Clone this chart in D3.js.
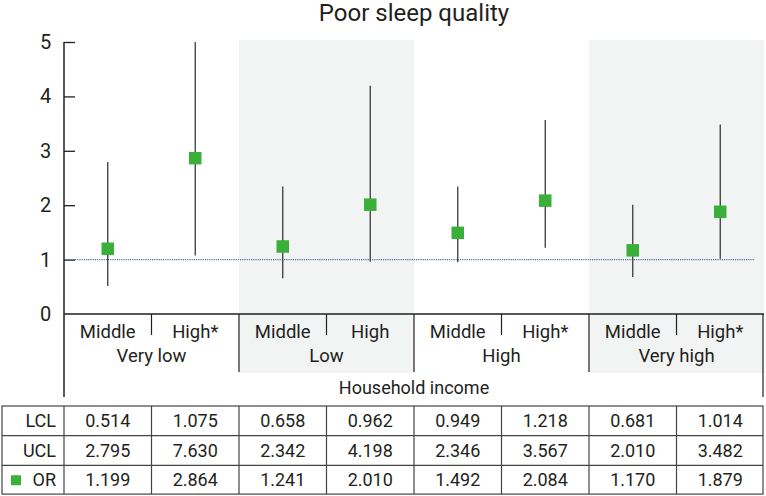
<!DOCTYPE html>
<html>
	<head>
		<meta charset="utf-8" />
		<title>Poor sleep quality</title>
		<style>
			body { margin: 0; background: #fff; }
			#chart svg { display: block; }
			#chart text { font-family: "Roboto", "Liberation Sans", sans-serif; fill: #231f20; }
		</style>
	</head>
	<body>
		<div id="chart"></div>
		<script src="https://cdnjs.cloudflare.com/ajax/libs/d3/7.8.5/d3.min.js"></script>
		<script>
			var groups = ["Very low", "Low", "High", "Very high"];
			var subs = ["Middle", "High*", "Middle", "High", "Middle", "High*", "Middle", "High*"];
			var lcl = [0.514, 1.075, 0.658, 0.962, 0.949, 1.218, 0.681, 1.014];
			var ucl = [2.795, 7.630, 2.342, 4.198, 2.346, 3.567, 2.010, 3.482];
			var or = [1.199, 2.864, 1.241, 2.010, 1.492, 2.084, 1.170, 1.879];
			var yTicks = [0, 1, 2, 3, 4, 5];

			!(function(){
				var width = 766, height = 496;
				var left = 64, right = 764, top = 42, base = 314;
				var ink = "#231f20";

				var svg = d3.select("#chart").append("svg")
					.attr("width", width)
					.attr("height", height);

				var x = d3.scaleBand().domain(d3.range(subs.length)).range([left, right]);
				var xg = d3.scaleBand().domain(groups).range([left, right]);
				var y = d3.scaleLinear().domain([0, 5]).range([base, top]);

				// shaded bands for Low and Very high
				svg.selectAll("rect.band")
					.data(groups.filter(function(d, i){ return i % 2 == 1; }))
					.enter().append("rect")
					.attr("x", function(d){ return xg(d); })
					.attr("y", 40)
					.attr("width", xg.bandwidth())
					.attr("height", 373 - 40)
					.attr("fill", "#f2f3f3");

				// title
				svg.append("text")
					.attr("x", (left + right) / 2)
					.attr("y", 21)
					.attr("text-anchor", "middle")
					.style("font-size", "24px")
					.text("Poor sleep quality");

				// y axis, ticks pointing inward
				var yAxis = svg.append("g")
					.attr("transform", "translate(" + left + ",0)")
					.call(d3.axisRight(y).tickValues(yTicks).tickSize(11).tickFormat(""));
				yAxis.select(".domain").remove();
				yAxis.selectAll("line").attr("stroke", ink).attr("stroke-width", 1.3);
				yAxis.selectAll(".tick").filter(function(d){ return d == 0; }).remove();

				svg.selectAll("text.ytick")
					.data(yTicks)
					.enter().append("text")
					.attr("class", "ytick")
					.attr("x", 45.5)
					.attr("y", function(d){ return y(d) + 7; })
					.attr("text-anchor", "middle")
					.style("font-size", "20px")
					.text(function(d){ return d; });

				// reference line OR = 1
				svg.append("line")
					.attr("x1", left).attr("x2", 754)
					.attr("y1", y(1)).attr("y2", y(1))
					.attr("stroke", "#4f6fa8")
					.attr("stroke-width", 1.2)
					.attr("stroke-dasharray", "1.2,1");

				// frame lines
				svg.append("line").attr("x1", left).attr("x2", left).attr("y1", top).attr("y2", 397)
					.attr("stroke", ink).attr("stroke-width", 1.5);
				svg.append("line").attr("x1", left).attr("x2", right).attr("y1", base).attr("y2", base)
					.attr("stroke", ink).attr("stroke-width", 1.5);
				svg.append("line").attr("x1", right - 1).attr("x2", right - 1).attr("y1", base).attr("y2", 397)
					.attr("stroke", ink).attr("stroke-width", 1.2);

				// group separators
				svg.selectAll("line.gsep")
					.data(groups.slice(1))
					.enter().append("line")
					.attr("x1", function(d){ return xg(d); })
					.attr("x2", function(d){ return xg(d); })
					.attr("y1", base).attr("y2", 372)
					.attr("stroke", ink).attr("stroke-width", 1.2);

				// sub separators
				svg.selectAll("line.ssep")
					.data(groups)
					.enter().append("line")
					.attr("x1", function(d){ return xg(d) + xg.bandwidth() / 2; })
					.attr("x2", function(d){ return xg(d) + xg.bandwidth() / 2; })
					.attr("y1", base).attr("y2", 335)
					.attr("stroke", ink).attr("stroke-width", 1.2);

				// category labels
				svg.selectAll("text.sub")
					.data(subs)
					.enter().append("text")
					.attr("x", function(d, i){ return x(i) + x.bandwidth() / 2; })
					.attr("y", 338)
					.attr("text-anchor", "middle")
					.style("font-size", "18.5px")
					.text(function(d){ return d; });

				svg.selectAll("text.grp")
					.data(groups)
					.enter().append("text")
					.attr("x", function(d){ return xg(d) + xg.bandwidth() / 2; })
					.attr("y", 362)
					.attr("text-anchor", "middle")
					.style("font-size", "18.5px")
					.text(function(d){ return d; });

				svg.append("text")
					.attr("x", (left + right) / 2)
					.attr("y", 394)
					.attr("text-anchor", "middle")
					.style("font-size", "18px")
					.text("Household income");

				// error bars
				svg.selectAll("line.ci")
					.data(subs)
					.enter().append("line")
					.attr("x1", function(d, i){ return x(i) + x.bandwidth() / 2; })
					.attr("x2", function(d, i){ return x(i) + x.bandwidth() / 2; })
					.attr("y1", function(d, i){ return y(lcl[i]); })
					.attr("y2", function(d, i){ return y(Math.min(ucl[i], 5)); })
					.attr("stroke", "#3a3a3a")
					.attr("stroke-width", 1.3);

				// OR markers
				var ms = 12.5;
				svg.selectAll("rect.or")
					.data(or)
					.enter().append("rect")
					.attr("x", function(d, i){ return x(i) + x.bandwidth() / 2 - ms / 2; })
					.attr("y", function(d){ return y(d) - ms / 2; })
					.attr("width", ms).attr("height", ms)
					.attr("fill", "#3aaf3a");

				// data table
				var rows = [
					{label: "LCL", values: lcl},
					{label: "UCL", values: ucl},
					{label: "OR", values: or}
				];
				var tTop = 406, rowH = 29.7, tLeft = 2;
				var ty = d3.scaleBand().domain(d3.range(rows.length)).range([tTop, tTop + rowH * rows.length]);
				var table = svg.append("g");

				table.append("rect")
					.attr("x", tLeft).attr("y", tTop)
					.attr("width", right - 1 - tLeft).attr("height", rowH * rows.length - 1)
					.attr("fill", "none").attr("stroke", "#444").attr("stroke-width", 1.2);

				table.selectAll("line.rsep")
					.data(d3.range(1, rows.length))
					.enter().append("line")
					.attr("x1", tLeft).attr("x2", right - 1)
					.attr("y1", function(d){ return ty(d); })
					.attr("y2", function(d){ return ty(d); })
					.attr("stroke", "#444").attr("stroke-width", 1.2);

				table.selectAll("line.csep")
					.data(d3.range(subs.length))
					.enter().append("line")
					.attr("x1", function(d){ return x(d); })
					.attr("x2", function(d){ return x(d); })
					.attr("y1", tTop).attr("y2", tTop + rowH * rows.length - 1)
					.attr("stroke", "#444").attr("stroke-width", 1.2);

				var row = table.selectAll("g.row")
					.data(rows)
					.enter().append("g")
					.attr("transform", function(d, i){ return "translate(0," + (ty(i) + ty.bandwidth() / 2 + 6) + ")"; });

				row.append("text")
					.attr("x", 56)
					.attr("text-anchor", "end")
					.style("font-size", "18px")
					.text(function(d){ return d.label; });

				row.selectAll("text.val")
					.data(function(d){ return d.values; })
					.enter().append("text")
					.attr("x", function(d, i){ return x(i) + x.bandwidth() / 2; })
					.attr("text-anchor", "middle")
					.style("font-size", "18px")
					.text(function(d){ return d3.format(".3f")(d); });

				row.filter(function(d){ return d.label == "OR"; })
					.append("rect")
					.attr("x", 11).attr("y", -11)
					.attr("width", 10).attr("height", 10)
					.attr("fill", "#3aaf3a");
			}());
		</script>
	</body>
</html>
